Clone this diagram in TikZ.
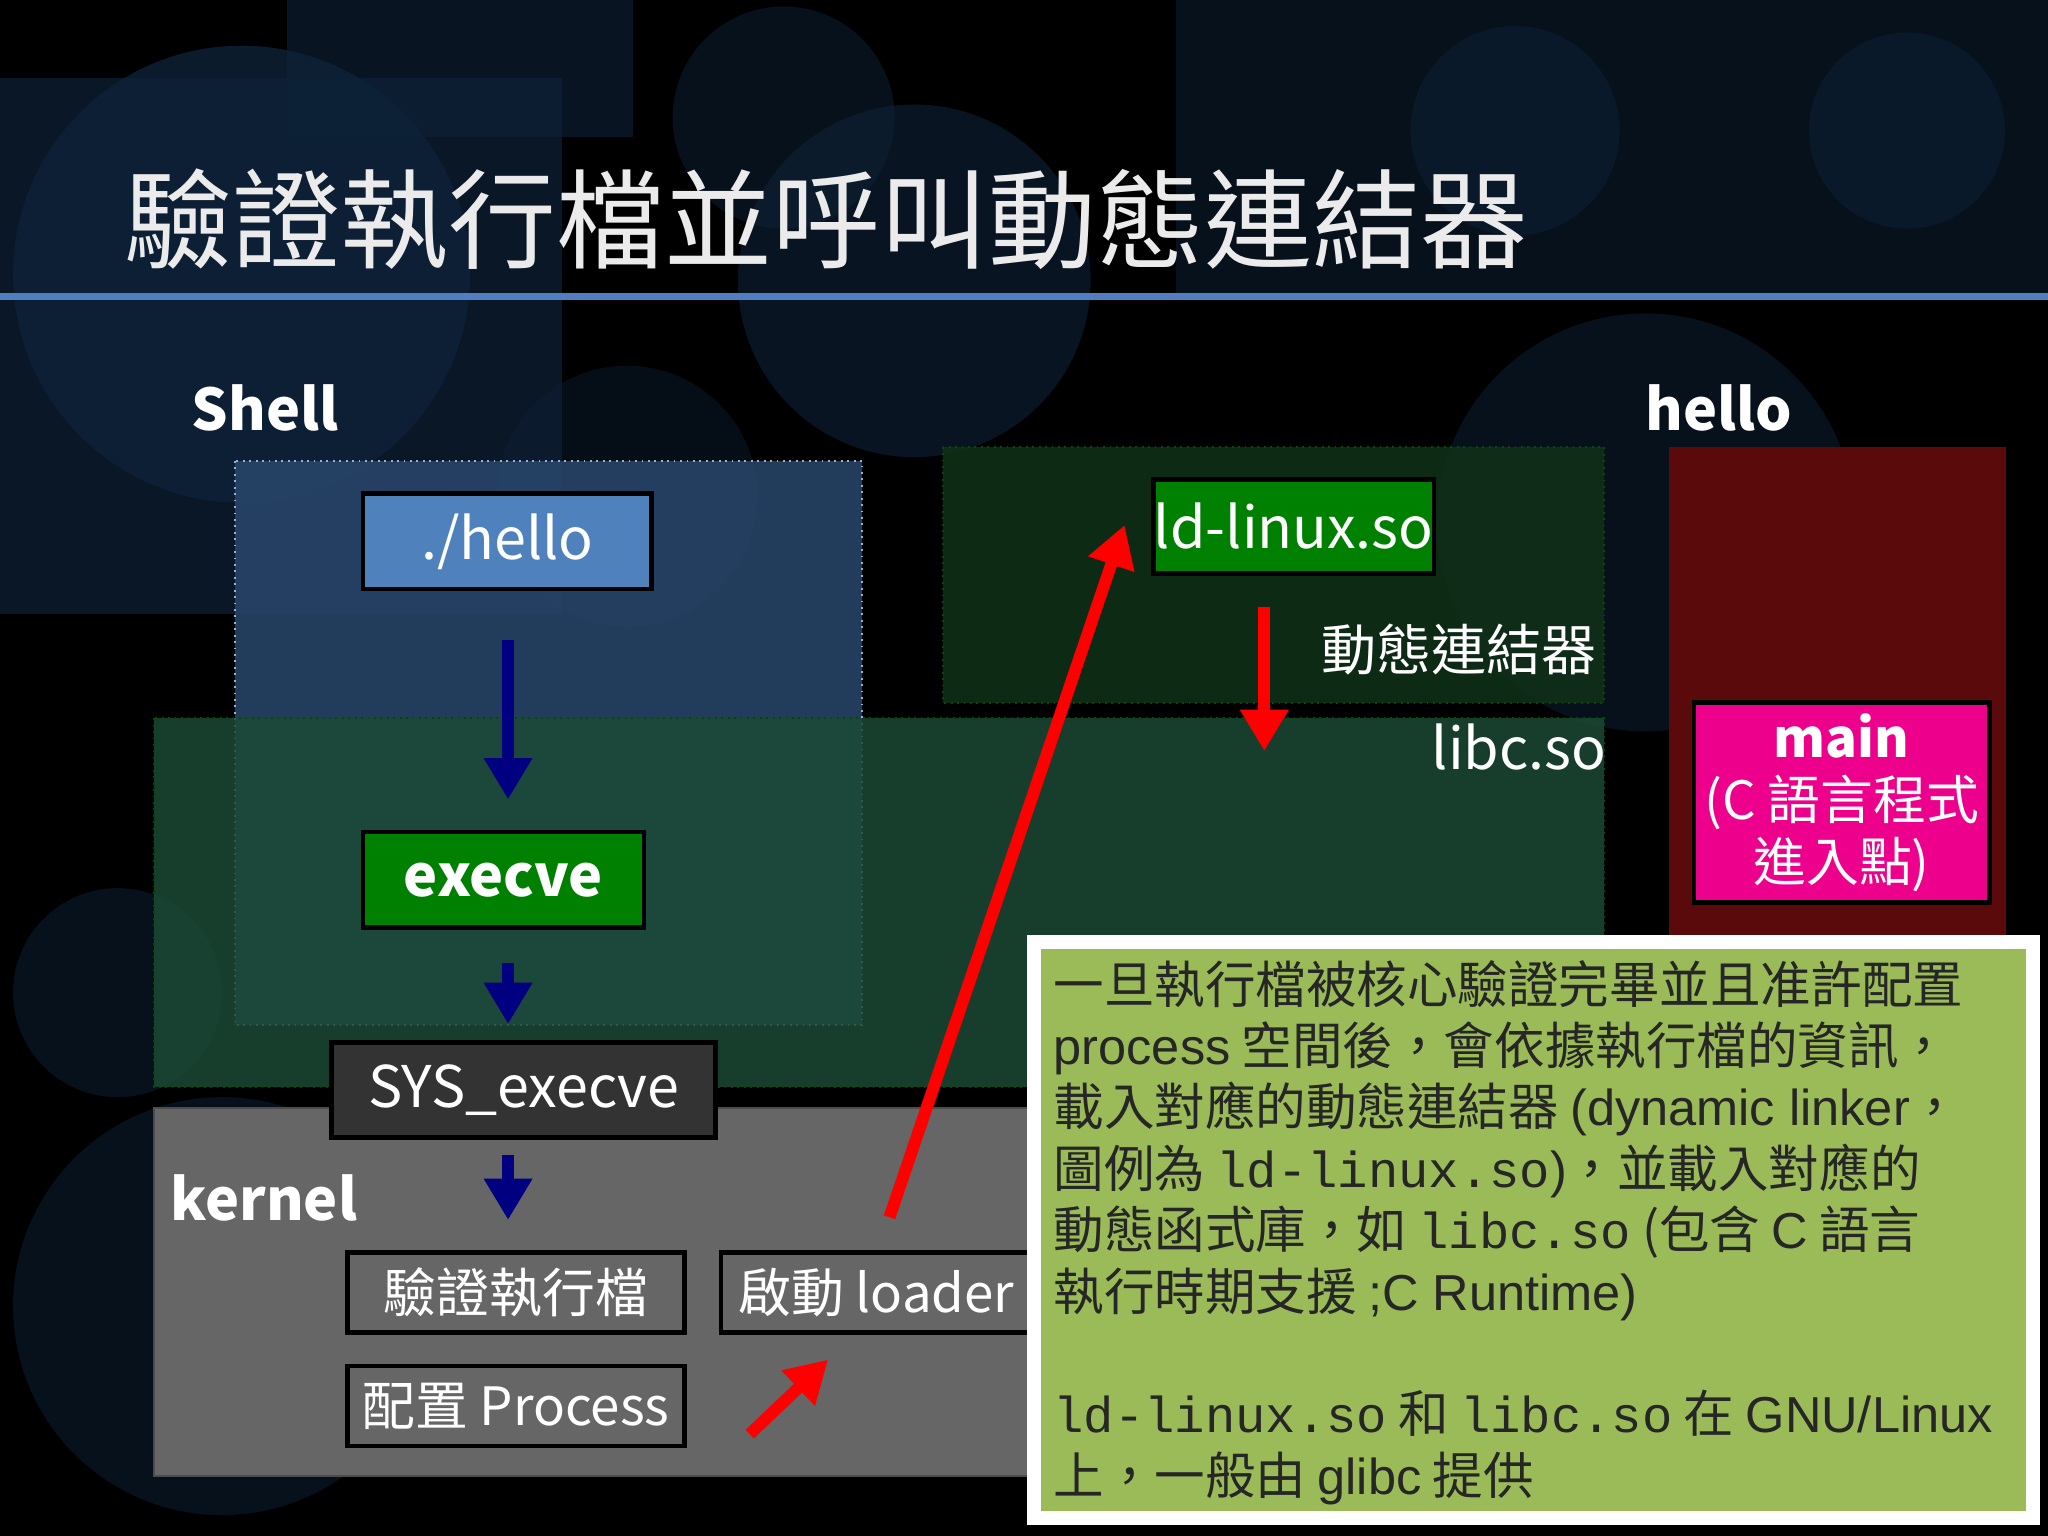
\documentclass[tikz,border=0pt]{standalone}
\usepackage{fontspec}
\setmainfont{Noto Sans CJK TC}
\newfontfamily\cjk{Noto Sans CJK TC}
\newfontfamily\arial{Liberation Sans}
\newfontfamily\mono{Liberation Mono}
\usetikzlibrary{arrows.meta}
\definecolor{bgblue}{HTML}{0E2238}
\definecolor{linebl}{HTML}{4F7FC0}
\definecolor{shellbl}{HTML}{29476C}
\definecolor{dgreen}{HTML}{1C4A36}
\definecolor{ugreen}{HTML}{0F2F18}
\definecolor{dred}{HTML}{5A0A0A}
\definecolor{boxblue}{HTML}{4F81BD}
\definecolor{boxgreen}{HTML}{008000}
\definecolor{olive}{HTML}{9BBB59}
\definecolor{arrblue}{HTML}{000080}
\definecolor{kgray}{HTML}{666666}
\tikzset{
 lbl/.style={text=white,font=\cjk\fontsize{12.5}{15}\selectfont},
 solidbox/.style={draw=black,line width=1pt,text=white,font=\cjk\fontsize{12.5}{15}\selectfont,inner sep=0},
 kbox/.style={draw=black,line width=1pt,fill=kgray,text=white,font=\cjk\fontsize{11.5}{14}\selectfont,inner sep=0},
 barr/.style={arrblue,line width=2.6pt,-{Triangle[length=9pt,width=10pt]}},
 rarr/.style={red,line width=2.6pt,-{Triangle[length=9pt,width=10pt]}},
 tl/.style={anchor=base west,inner sep=0,text=black!85,font=\cjk\fontsize{11}{13}\selectfont},
}
\begin{document}
\begin{tikzpicture}[x=0.01cm,y=-0.01cm]
\useasboundingbox (0,0) rectangle (1568,1176);
\fill[black] (0,0) rectangle (1568,1176);
% background decoration
\fill[bgblue,opacity=0.7] (0,60) rectangle (430,470);
\fill[bgblue,opacity=0.6] (220,0) rectangle (485,105);
\fill[bgblue,opacity=0.5] (900,0) rectangle (1568,230);
\fill[bgblue,opacity=0.8] (185,210) circle (175);
\fill[bgblue,opacity=0.6] (700,215) circle (135);
\fill[bgblue,opacity=0.5] (600,90) circle (85);
\fill[bgblue,opacity=0.5] (1160,100) circle (80);
\fill[bgblue,opacity=0.5] (1460,100) circle (75);
\fill[bgblue,opacity=0.5] (1260,400) circle (160);
\fill[bgblue,opacity=0.5] (90,760) circle (80);
\fill[bgblue,opacity=0.5] (170,1000) circle (160);
\fill[bgblue,opacity=0.4] (480,380) circle (100);
% title
\node[text=black!8,font=\cjk\fontsize{23.5}{26}\selectfont,anchor=west,inner sep=0] (title) at (95,168) {驗證執行檔並呼叫動態連結器};
\fill[linebl] (0,224) rectangle (1568,230);
% areas
\fill[shellbl,opacity=0.85] (180,353) rectangle (660,785);
\draw[linebl!60,densely dotted] (180,353) rectangle (660,785);
\fill[ugreen,opacity=0.9] (722,342) rectangle (1228,538);
\draw[green!30!black,densely dotted] (722,342) rectangle (1228,538);
\fill[dgreen,opacity=0.85] (118,550) rectangle (1228,832);
\draw[green!30!black,densely dotted] (118,550) rectangle (1228,832);
\fill[dred] (1278,342) rectangle (1536,720);
\fill[kgray,draw=black!70] (118,848) rectangle (790,1130);
% labels
\node[lbl,font=\cjk\bfseries\fontsize{12.5}{15}\selectfont] (shell) at (203,312) {Shell};
\node[lbl,font=\cjk\bfseries\fontsize{12.5}{15}\selectfont] (hello) at (1316,312) {hello};
\node[lbl,font=\cjk\bfseries\fontsize{12.5}{15}\selectfont] (kernel) at (202,917) {kernel};
\node[lbl,font=\cjk\fontsize{12}{14}\selectfont] (dyn) at (1117,497) {動態連結器};
\node[lbl] (libc) at (1163,572) {libc.so};
% boxes
\node[solidbox,fill=boxblue,minimum width=221*0.01cm,minimum height=73*0.01cm] (h) at (388.5,414.5) {./hello};
\node[solidbox,fill=boxgreen,minimum width=215*0.01cm,minimum height=73*0.01cm,font=\cjk\bfseries\fontsize{12.5}{15}\selectfont] (ex) at (385.5,673.5) {execve};
\node[solidbox,fill=black!80,minimum width=294*0.01cm,minimum height=73*0.01cm] (sys) at (401,834.5) {SYS\_execve};
\node[kbox,minimum width=258*0.01cm,minimum height=61*0.01cm] (ver) at (395,989.5) {驗證執行檔};
\node[kbox,minimum width=238*0.01cm,minimum height=61*0.01cm] (ld) at (671,989.5) {啟動 loader};
\node[kbox,minimum width=258*0.01cm,minimum height=61*0.01cm] (cfg) at (395,1076.5) {配置 Process};
\node[solidbox,fill=boxgreen,minimum width=215*0.01cm,minimum height=72*0.01cm] (ldl) at (990.5,403) {ld-linux.so};
\node[solidbox,fill=magenta,minimum width=226*0.01cm,minimum height=153*0.01cm,align=center,font=\cjk\fontsize{11.5}{13.5}\selectfont] (main) at (1410,614.5) {{\bfseries main}\\(C 語言程式\\進入點)};
% arrows
\coordinate (a1s) at (389,490); \coordinate (a1e) at (389,612);
\draw[barr] (a1s) -- (a1e);
\coordinate (a2s) at (389,737); \coordinate (a2e) at (389,784);
\draw[barr] (a2s) -- (a2e);
\coordinate (a3s) at (389,884); \coordinate (a3e) at (389,934);
\draw[barr] (a3s) -- (a3e);
\coordinate (r1s) at (681,932); \coordinate (r1e) at (861,402);
\draw[rarr] (r1s) -- (r1e);
\coordinate (r2s) at (574,1098); \coordinate (r2e) at (634,1041);
\draw[rarr] (r2s) -- (r2e);
\coordinate (r3s) at (968,465); \coordinate (r3e) at (968,575);
\draw[rarr] (r3s) -- (r3e);
% text box
\node[draw=white,line width=3pt,fill=olive,minimum width=765*0.01cm,minimum height=441*0.01cm,inner sep=0] (tb) at (1174,941.5) {};
\node[tl] (t1) at (806,768) {一旦執行檔被核心驗證完畢並且准許配置};
\node[tl] (t2) at (806,815) {{\arial process} 空間後，會依據執行檔的資訊，};
\node[tl] (t3) at (806,862) {載入對應的動態連結器 {\arial (dynamic linker}，};
\node[tl] (t4) at (806,909) {圖例為 {\mono ld-linux.so}{\arial )}，並載入對應的};
\node[tl] (t5) at (806,956) {動態函式庫，如 {\mono libc.so} (包含 {\arial C} 語言};
\node[tl] (t6) at (806,1003) {執行時期支援 {\arial ;C Runtime)}};
\node[tl] (t7) at (806,1097) {{\mono ld-linux.so} 和 {\mono libc.so} 在 {\arial GNU/Linux}};
\node[tl] (t8) at (806,1144) {上，一般由 {\arial glibc} 提供};
\end{tikzpicture}
\end{document}
